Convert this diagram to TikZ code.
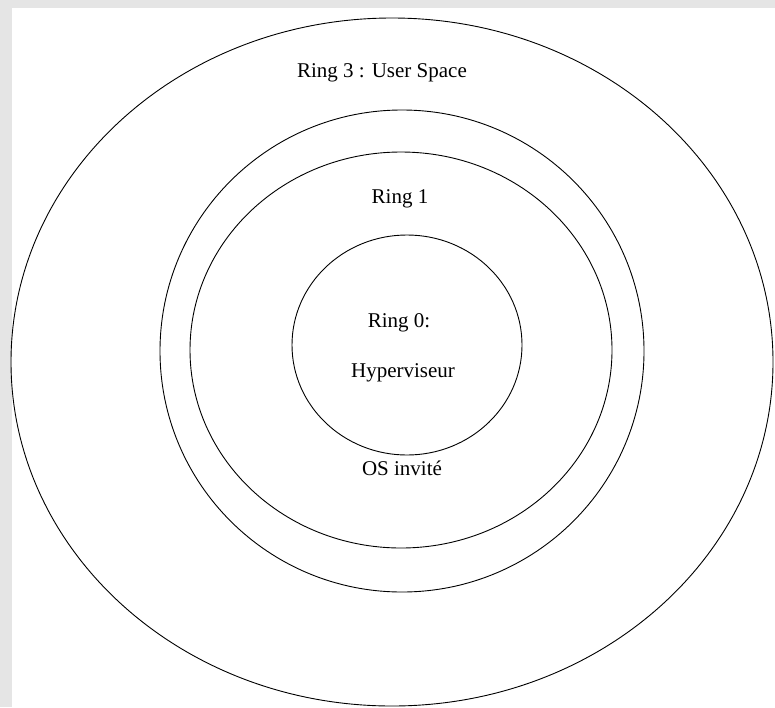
\documentclass[tikz,border=0pt]{standalone}
\usepackage{fontspec}
\setmainfont{Liberation Serif}
\begin{document}
\begin{tikzpicture}[x=1pt,y=-1pt]
\tikzset{ring/.style={draw=black, line width=0.9pt}, label/.style={font=\fontsize{21}{25}\selectfont}}
\def\xA{0};
\def\yA{0};
\def\xB{775};
\def\yB{707};
\coordinate (A) at (\xA,\yA);
\coordinate (B) at (\xB,\yB);
\useasboundingbox (A) rectangle (B);
\fill[gray!20] (A) rectangle (B);
\fill[white] (12,8) rectangle (B);
% rings, from outside to inside
\draw[ring] (392,362) ellipse [x radius=381, y radius=344];
\draw[ring] (402,351) ellipse [x radius=242, y radius=241];
\draw[ring] (401,350) ellipse [x radius=211, y radius=198];
\draw[ring] (407,345) ellipse [x radius=115, y radius=110];
% texts
\node[label] (ring3) at (382,73) {Ring 3 : User Space};
\node[label] (ring1) at (400,199) {Ring 1};
\node[label] (ring0) at (399,323) {Ring 0:};
\node[label] (hyper) at (403,373) {Hyperviseur};
\node[label] (guest) at (402,468) {OS invité};
\end{tikzpicture}
\end{document}
